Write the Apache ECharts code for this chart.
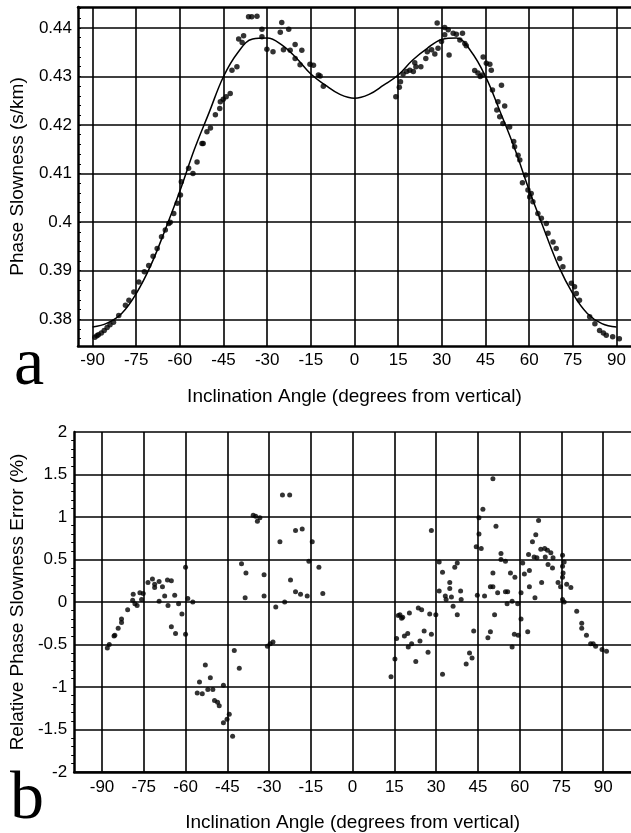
<!DOCTYPE html>
<html>
<head>
<meta charset="utf-8">
<script src="https://cdn.jsdelivr.net/npm/echarts@6/dist/echarts.min.js"></script>
<style>
html,body{margin:0;padding:0;background:#fff;}
#chart{width:631px;height:833px;}
</style>
</head>
<body>
<div id="chart"></div>
<script>
// ---------- Tick labels ----------
const angleTicks = [-90, -75, -60, -45, -30, -15, 0, 15, 30, 45, 60, 75, 90];
const slownessTicks = [0.38, 0.39, 0.40, 0.41, 0.42, 0.43, 0.44];

// ---------- Panel a: measured phase slowness ----------
const topAngles = [
  -89.2, -88.5, -88, -87, -86, -85, -84, -82.8, -81, -78.7, -77.5, -75.8, -74.1, -72.2, -70.7, -69.2,
  -67.8, -66.3, -65.0, -63.8, -63.3, -62.1, -60.9, -59.8, -59.5, -57.0, -55.5, -54.1, -52.4, -52.0,
  -50.7, -49.5, -47.8, -46.3, -46.1, -45.1, -44.1, -42.7, -42.1, -40.4, -39.8, -38.6, -38.1, -36.4,
  -35.3, -33.5, -31.8, -31.8, -30.1, -28.0, -25.5, -25.0, -22.6, -24.4, -22.1, -20.4, -20.4, -18.1,
  -18.7, -15.3, -14.1, -12.4, -11.8, -10.7,
  14.2, 15.4, 15.8, 16.7, 17.9, 19.0, 20.2, 20.7, 21.1, 22.8, 24.5, 25.0, 26.5, 27.6, 28.7, 28.4,
  29.9, 31.0, 31.0, 32.2, 32.5, 33.9, 35.0, 36.2, 37.1, 37.9, 38.4, 41.3, 42.4, 43.2, 43.9, 44.2,
  45.3, 46.5, 47.0, 47.4, 48.9, 49.3, 49.9, 50.5, 51.0, 51.6, 53.3, 54.7, 55.0, 56.2, 56.8, 57.7,
  58.8, 59.6, 60.2, 60.7, 61.3, 63.0, 64.2, 65.9, 66.5, 68.2, 69.3, 70.5, 71.6, 74.5, 75.6, 76.2,
  77.3, 80.8, 82.6, 84.2, 85.5, 86.5, 88.7, 91.0
];
const topSlowness = [
  0.3763, 0.3766, 0.3768, 0.3772, 0.3777, 0.3783, 0.3789, 0.3794, 0.3808, 0.3829, 0.3839, 0.3856, 0.3877, 0.3898, 0.3911, 0.3930,
  0.3946, 0.3970, 0.3984, 0.3997, 0.4000, 0.4018, 0.4039, 0.4056, 0.4083, 0.4111, 0.4100, 0.4124, 0.4162, 0.4162,
  0.4186, 0.4194, 0.4221, 0.4234, 0.4248, 0.4253, 0.4258, 0.4265, 0.4313, 0.4320, 0.4377, 0.4370, 0.4384, 0.4423,
  0.4423, 0.4424, 0.4397, 0.4382, 0.4356, 0.4351, 0.4391, 0.4411, 0.4397, 0.4355, 0.4354, 0.4366, 0.4337, 0.4354,
  0.4324, 0.4325, 0.4323, 0.4303, 0.4301, 0.4280,
  0.4258, 0.4278, 0.4289, 0.4305, 0.4310, 0.4313, 0.4310, 0.4328, 0.4320, 0.4320, 0.4337, 0.4351, 0.4355, 0.4346, 0.4358, 0.4410,
  0.4372, 0.4401, 0.4386, 0.4396, 0.4344, 0.4389, 0.4387, 0.4375, 0.4389, 0.4368, 0.4363, 0.4312, 0.4307, 0.4300, 0.4303, 0.4340,
  0.4327, 0.4325, 0.4313, 0.4272, 0.4231, 0.4248, 0.4217, 0.4282, 0.4203, 0.4239, 0.4196, 0.4166, 0.4155, 0.4138, 0.4128, 0.4081,
  0.4097, 0.4066, 0.4052, 0.4059, 0.4042, 0.4018, 0.4008, 0.3997, 0.3977, 0.3959, 0.3946, 0.3925, 0.3908, 0.3874, 0.3867, 0.3853,
  0.3839, 0.3805, 0.3791, 0.3777, 0.3772, 0.3767, 0.3764, 0.3760
];

// ---------- Panel a: model curve ----------
const curveAngles = [-90, -85, -80, -75, -70, -65, -60, -55, -50, -45, -40, -35, -30, -25, -20, -15, -10, -5, 0,
  5, 10, 15, 20, 25, 30, 35, 40, 45, 50, 55, 60, 65, 70, 75, 80, 85, 90];
const curveSlowness = [0.3784, 0.3792, 0.3812, 0.3853, 0.3911, 0.3985, 0.4064, 0.4150, 0.4225, 0.4300, 0.4350, 0.4377, 0.4379, 0.4365, 0.4338, 0.4305, 0.4282, 0.4263, 0.4255,
  0.4263, 0.4282, 0.4303, 0.4334, 0.4358, 0.4376, 0.4379, 0.4352, 0.4300, 0.4228, 0.4152, 0.4066, 0.3987, 0.3911, 0.3853, 0.3812, 0.3791, 0.3784];

// ---------- Panel b: relative error (%) ----------
const errAngles = [
  -88.1, -87.4, -85.7, -85.4, -84.2, -83.0, -83.0, -80.8, -79.0, -78.8, -78.2, -77.4, -76.4, -75.8, -75.2, -73.5,
  -71.9, -71.1, -71.1, -69.5, -69.5, -68.3, -67.5, -66.5, -66.3, -65.1, -65.1, -63.9, -63.6, -62.5, -61.3, -60.0,
  -60.0, -59.2, -57.4, -55.8, -55.0, -54.0, -52.9, -52.0, -51.1, -50.2, -49.6, -48.5, -47.9, -46.4, -46.4, -45.1,
  -44.3, -43.1, -42.5, -40.7, -39.9, -38.6, -38.3, -35.7, -34.8, -34.2, -33.3, -31.8, -31.8, -30.6, -29.6, -28.6,
  -27.6, -26.1, -25.2, -24.4, -22.6, -22.3, -20.5, -20.5, -18.7, -18.1, -16.3, -15.7, -14.5, -12.1, -10.7,
  13.8, 15.2, 15.8, 16.4, 17.0, 17.6, 18.0, 18.6, 19.8, 20.0, 20.4, 21.2, 22.7, 23.6, 24.2, 24.8,
  25.7, 27.1, 27.7, 28.3, 28.3, 29.9, 31.1, 31.1, 32.3, 32.3, 33.3, 33.6, 34.9, 34.9, 35.5, 36.1,
  36.7, 37.6, 37.6, 38.8, 39.0, 40.8, 42.0, 42.9, 43.5, 44.4, 44.8, 45.4, 45.4, 46.2, 46.8, 47.4,
  48.6, 49.5, 49.5, 50.4, 50.4, 50.4, 51.0, 51.5, 52.1, 53.3, 53.3, 54.9, 54.9, 55.5, 55.7, 56.7,
  57.3, 57.3, 58.1, 58.3, 59.3, 59.5, 60.5, 60.5, 61.1, 61.7, 62.9, 63.2, 63.5, 63.5, 64.6, 65.2,
  65.5, 65.8, 66.2, 66.8, 67.6, 67.9, 69.0, 69.2, 70.0, 70.2, 71.2, 71.8, 72.0, 73.8, 74.7, 75.4,
  75.4, 75.4, 75.4, 75.6, 76.0, 76.0, 76.9, 78.4, 80.5, 82.3, 82.3, 84.0, 85.5, 86.4, 87.3, 89.6, 91.2
];
const errValues = [
  -0.54, -0.50, -0.40, -0.39, -0.31, -0.24, -0.20, -0.09, 0.02, 0.09, -0.02, -0.04, 0.11, 0.03, 0.10, 0.23,
  0.27, 0.21, 0.17, 0.24, 0.01, 0.18, 0.07, 0.26, -0.04, 0.25, -0.29, 0.08, -0.37, -0.02, -0.14, 0.41,
  -0.38, 0.04, 0.00, -1.07, -0.94, -1.08, -0.74, -1.03, -0.89, -1.03, -1.16, -1.18, -1.22, -0.98, -1.42, -1.38,
  -1.32, -1.58, -0.57, -0.78, 0.45, 0.05, 0.34, 1.02, 1.01, 0.95, 0.99, 0.32, 0.07, -0.52, -0.49, -0.47,
  -0.06, 0.71, 1.26, 0.00, 1.26, 0.26, 0.84, 0.12, 0.09, 0.86, 0.07, 0.48, 0.71, 0.41, 0.10,
  -0.88, -0.67, -0.43, -0.16, -0.15, -0.19, -0.18, -0.40, -0.37, -0.53, -0.13, -0.49, -0.70, -0.07, -0.46, -0.09,
  -0.34, -0.59, -0.14, -0.38, 0.84, -0.15, 0.47, 0.13, 0.35, -0.85, 0.07, 0.03, 0.23, 0.16, 0.06, -0.05,
  0.41, 0.46, -0.15, 0.13, 0.03, -0.73, -0.60, -0.66, -0.34, 0.65, 0.08, 0.80, 0.99, 0.63, 1.09, 0.07,
  -0.42, 0.18, -0.35, 1.45, 0.34, 0.18, -0.15, 0.89, 0.11, 0.57, 0.50, 0.48, 0.12, -0.02, 0.12, 0.34,
  0.01, -0.53, -0.38, 0.29, -0.02, -0.39, 0.11, -0.20, 0.46, 0.33, -0.35, 0.56, 0.37, 0.18, 0.71, 0.53,
  0.05, 0.79, 0.52, 0.96, 0.62, 0.23, 0.63, 0.53, 0.61, 0.44, 0.58, 0.40, 0.52, 0.23, 0.18, 0.55,
  0.42, 0.29, 0.03, 0.34, 0.47, 0.00, 0.21, 0.17, -0.11, -0.25, -0.31, -0.39, -0.49, -0.49, -0.52, -0.56, -0.58
];

function pairs(xs, ys) { return xs.map((x, i) => [x, ys[i]]); }

// minor tick positions on the slowness axis (every 0.002)
const slownessMinor = [];
for (let k = 188; k <= 222; k++) slownessMinor.push(+(k * 0.002).toFixed(3));

const FONT = "'Liberation Sans', Arial, Helvetica, sans-serif";
const gridLine = { show: true, lineStyle: { color: '#000', width: 1.6 } };
const axisLineThick = { show: true, onZero: false, lineStyle: { color: '#000', width: 2.5 } };
const labelStyle = { color: '#000', fontSize: 17, fontFamily: FONT };
const nameStyle = { color: '#000', fontSize: 19, fontFamily: FONT };

const chart = echarts.init(document.getElementById('chart'), null, { renderer: 'canvas' });

chart.setOption({
  animation: false,
  backgroundColor: '#fff',
  grid: [
    { left: 78, top: 7, width: 553, height: 339 },
    { left: 73, top: 432, width: 561, height: 340 }
  ],
  xAxis: [
    {
      gridIndex: 0, type: 'value', min: -95, max: 95, position: 'bottom',
      name: 'Inclination Angle (degrees from vertical)', nameLocation: 'middle', nameGap: 41,
      nameTextStyle: nameStyle,
      axisLine: axisLineThick,
      axisTick: { show: false, customValues: angleTicks },
      axisLabel: Object.assign({ customValues: angleTicks, margin: 6 }, labelStyle),
      splitLine: gridLine
    },
    {
      gridIndex: 0, type: 'value', min: -95, max: 95, position: 'top',
      axisLine: axisLineThick, axisTick: { show: false }, axisLabel: { show: false }, splitLine: { show: false }
    },
    {
      gridIndex: 1, type: 'value', min: -100, max: 100, position: 'bottom',
      name: 'Inclination Angle (degrees from vertical)', nameLocation: 'middle', nameGap: 41,
      nameTextStyle: nameStyle,
      axisLine: axisLineThick,
      axisTick: { show: false, customValues: angleTicks },
      axisLabel: Object.assign({ customValues: angleTicks, margin: 7 }, labelStyle),
      splitLine: gridLine
    }
  ],
  yAxis: [
    {
      gridIndex: 0, type: 'value', min: 0.3745, max: 0.4443, position: 'left',
      name: 'Phase Slowness (s/km)', nameLocation: 'middle', nameGap: 51,
      nameTextStyle: nameStyle,
      axisLine: axisLineThick,
      axisTick: { show: false, customValues: slownessTicks },
      axisLabel: Object.assign({ customValues: slownessTicks, margin: 6, formatter: v => String(+v.toFixed(2)) }, labelStyle),
      splitLine: gridLine
    },
    {
      gridIndex: 0, type: 'value', min: 0.3745, max: 0.4443, position: 'left',
      axisLine: { show: false, onZero: false },
      axisTick: { show: true, inside: true, length: 3, customValues: slownessMinor, lineStyle: { color: '#000', width: 1 } },
      axisLabel: { show: false }, splitLine: { show: false }
    },
    {
      gridIndex: 1, type: 'value', min: -2, max: 2, interval: 0.5, position: 'left',
      name: 'Relative Phase Slowness Error (%)', nameLocation: 'middle', nameGap: 45,
      nameTextStyle: nameStyle,
      axisLine: axisLineThick,
      axisTick: { show: false },
      minorTick: { show: true, splitNumber: 5, length: 3, lineStyle: { color: '#000', width: 1 } },
      axisLabel: Object.assign({ margin: 7 }, labelStyle),
      splitLine: gridLine
    }
  ],
  series: [
    {
      type: 'line', xAxisIndex: 0, yAxisIndex: 0, data: pairs(curveAngles, curveSlowness),
      smooth: 0.4, showSymbol: false, symbol: 'none', lineStyle: { color: '#000', width: 1.5 }, z: 3
    },
    {
      type: 'scatter', xAxisIndex: 0, yAxisIndex: 0, data: pairs(topAngles, topSlowness),
      symbol: 'circle', symbolSize: 5.5, itemStyle: { color: '#000' }, z: 4
    },
    {
      type: 'scatter', xAxisIndex: 2, yAxisIndex: 2, data: pairs(errAngles, errValues),
      symbol: 'circle', symbolSize: 5, itemStyle: { color: '#000' }, z: 4
    }
  ],
  graphic: [
    { type: 'text', left: 14, top: 332, style: { text: 'a', font: "68px 'Liberation Serif', 'Times New Roman', serif", fill: '#000' } },
    { type: 'text', left: 10, top: 766, style: { text: 'b', font: "68px 'Liberation Serif', 'Times New Roman', serif", fill: '#000' } }
  ]
});
</script>
</body>
</html>
